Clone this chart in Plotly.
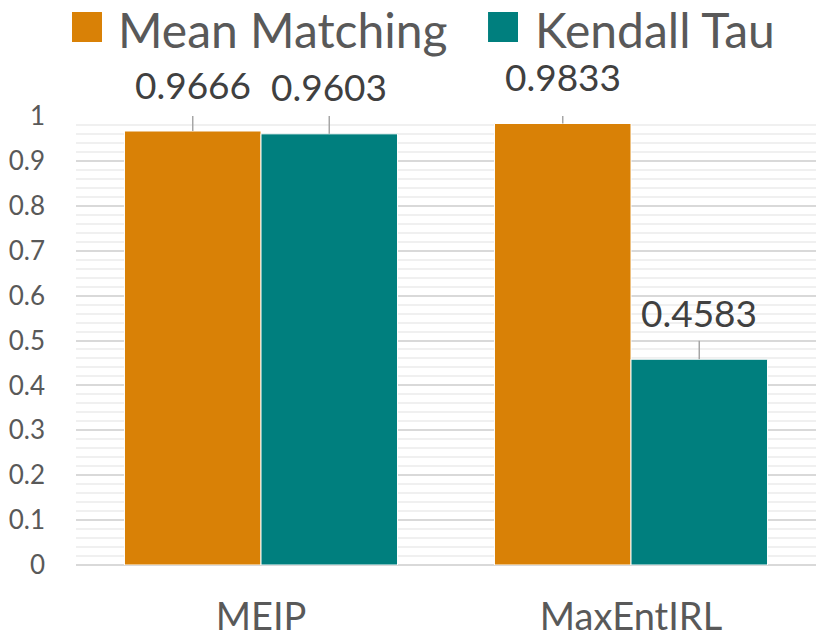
import plotly.graph_objects as go

categories = ["MEIP", "MaxEntIRL"]
series_names = ["Mean Matching", "Kendall Tau"]
mean_matching = [0.9666, 0.9833]
kendall_tau = [0.9603, 0.4583]
y_ticks = [0, 0.1, 0.2, 0.3, 0.4, 0.5, 0.6, 0.7, 0.8, 0.9, 1]

colors = ["#D98106", "#007F7E"]
FONT = "Lato"
values = [mean_matching, kendall_tau]

fig = go.Figure()
for name, vals, col in zip(series_names, values, colors):
    fig.add_trace(go.Bar(
        x=categories, y=vals, name=name,
        marker=dict(color=col, line=dict(color="white", width=1)),
        error_y=dict(type="constant", value=0.041, valueminus=0, symmetric=False,
                     color="#A6A6A6", thickness=1.5, width=0),
        showlegend=False,
    ))

# data labels
offsets = [-68, 68]
for vals, xs in zip(values, offsets):
    for c, v in zip(categories, vals):
        fig.add_annotation(x=c, y=v, xref="x", yref="y", text=f"{v:.4f}",
                           showarrow=False, xshift=xs, yshift=47,
                           font=dict(family=FONT, size=37, color="#404040"),
                           xanchor="center", yanchor="middle")

# legend (manual, large)
leg_sq = [(-0.0054, 0.0351), (0.5568, 0.5973)]
leg_tx = [0.0540, 0.6180]
for (x0, x1), tx, name, col in zip(leg_sq, leg_tx, series_names, colors):
    fig.add_shape(type="rect", xref="paper", yref="paper", x0=x0, x1=x1,
                  y0=1.1648, y1=1.2316, fillcolor=col, line=dict(width=0))
    fig.add_annotation(x=tx, y=1.193, xref="paper", yref="paper", text=name,
                       showarrow=False, xanchor="left", yanchor="middle",
                       font=dict(family=FONT, size=48, color="#595959"))

fig.update_layout(
    width=829, height=637,
    margin=dict(l=76, r=13, t=116, b=72),
    plot_bgcolor="white", paper_bgcolor="white",
    barmode="group", bargap=0.262, bargroupgap=0.0,
    font=dict(family=FONT, color="#595959"),
)
fig.update_yaxes(
    range=[0, 1], tickvals=y_ticks, ticktext=[f"{t:g}" for t in y_ticks],
    showgrid=True, gridcolor="#D9D9D9", gridwidth=2,
    minor=dict(dtick=0.02, showgrid=True, gridcolor="#F0F0F0", gridwidth=1.5),
    zeroline=True, zerolinecolor="#D9D9D9", zerolinewidth=2,
    tickfont=dict(family=FONT, size=26, color="#595959"),
    ticklabelstandoff=30, showline=False, automargin=False,
)
fig.update_xaxes(
    tickfont=dict(family=FONT, size=38, color="#595959"),
    ticklabelstandoff=26, showline=False, showgrid=False, automargin=False,
)

fig.write_html(
    "out.html",
    config={"displayModeBar": False},
    post_script="document.body.style.margin='0';document.body.style.overflow='hidden';",
)
